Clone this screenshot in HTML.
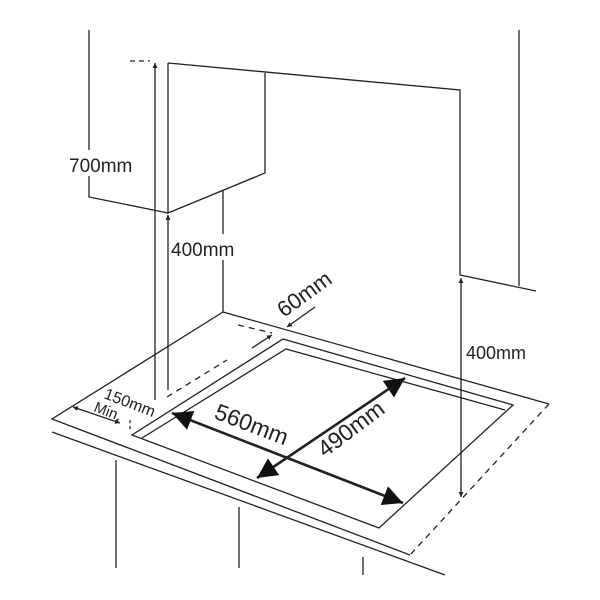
<!DOCTYPE html>
<html><head><style>body{margin:0;background:#fff}svg{display:block}text{font-family:"Liberation Sans",sans-serif;fill:#222}</style></head>
<body>
<svg width="600" height="600" viewBox="0 0 600 600" xmlns="http://www.w3.org/2000/svg">
<defs>
<marker id="a" viewBox="0 0 10 10" refX="10" refY="5" markerWidth="5" markerHeight="7" orient="auto-start-reverse" markerUnits="userSpaceOnUse"><path d="M0,0L10,5L0,10z" fill="#222"/></marker>
<marker id="b" viewBox="0 0 10 10" refX="10" refY="5" markerWidth="22" markerHeight="20" orient="auto-start-reverse" markerUnits="userSpaceOnUse"><path d="M0,0L10,5L0,10z" fill="#111"/></marker>
</defs>
<g stroke="#222" stroke-width="1.3" fill="none">
<path d="M89,30V197L168,213"/>
<path d="M168,63L460,90V275L536,291"/>
<path d="M519,30V286"/>
<path d="M265,73V173L168,213V63"/>
<path d="M223,190V312"/>
<path d="M130,61H150" stroke-dasharray="5,4"/>
<path d="M223,312L549,404"/>
<path d="M223,312L52,419L410,555"/>
<path d="M52,432L445,575"/>
<path d="M549,404L410,555" stroke-dasharray="6,5"/>
<path d="M116,460V568M239,507V568M363,557V575"/>
<path d="M283,339L513,405L379,528L132,435Z"/>
<path d="M142,438L286,349L505,410"/>
<path d="M167,397L227,360" stroke-dasharray="6,5"/>
<path d="M238,325L272,333" stroke-dasharray="6,5"/>
<path d="M130,420V432" stroke-dasharray="3,3"/>
<path d="M155,400V63" marker-end="url(#a)"/>
<path d="M168,390V215" marker-end="url(#a)"/>
<path d="M461,497V278" marker-start="url(#a)" marker-end="url(#a)"/>
<path d="M315,307L287,327" marker-end="url(#a)"/>
<path d="M252,348L272,335" marker-end="url(#a)"/>
<path d="M73,407L120,423" marker-start="url(#a)" marker-end="url(#a)"/>
<path d="M172,413L403,503" stroke-width="2.6" marker-start="url(#b)" marker-end="url(#b)"/>
<path d="M257,478L405,378" stroke-width="2.6" marker-start="url(#b)" marker-end="url(#b)"/>
</g>
<rect x="68" y="150" width="70" height="26" fill="#fff"/>
<rect x="170" y="234" width="72" height="26" fill="#fff"/>
<text x="69" y="172" font-size="19">700mm</text>
<text x="171" y="256" font-size="19">400mm</text>
<text x="466" y="359" font-size="18">400mm</text>
<text font-size="22" transform="translate(284,318) rotate(-36)">60mm</text>
<text font-size="16" transform="translate(103,398) rotate(21)">150mm</text>
<text font-size="15" transform="translate(93,411) rotate(21)">Min.</text>
<text font-size="23" transform="translate(213,418) rotate(21)">560mm</text>
<text font-size="23" transform="translate(325,458) rotate(-37)">490mm</text>
</svg>
</body></html>
